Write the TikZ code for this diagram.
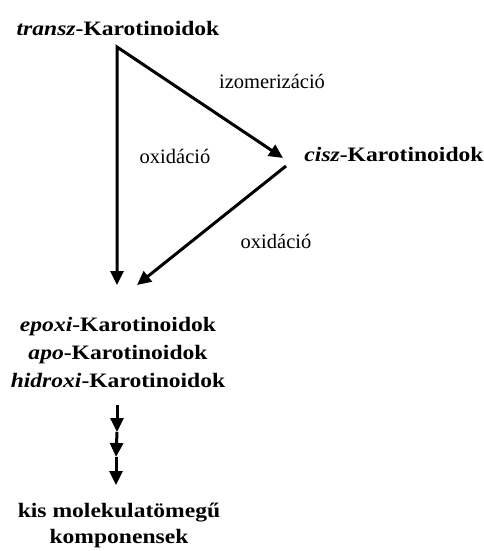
\documentclass[tikz,border=0pt]{standalone}
\usepackage{fontspec}
\setmainfont{Liberation Serif}[BoldFeatures={FakeStretch=1.15},BoldItalicFeatures={FakeStretch=1.15}]
\usetikzlibrary{arrows.meta}
\tikzset{
  lbl/.style={font=\fontsize{20.5}{24}\selectfont, inner sep=0pt, anchor=base},
  ttl/.style={font=\fontsize{20.5}{24}\selectfont\bfseries, inner sep=0pt, anchor=base},
  arr/.style={line width=3pt, -{Triangle[length=14pt,width=13pt]}},
  darr/.style={line width=3pt, line join=miter, {Triangle[length=14pt,width=13pt]}-{Triangle[length=14pt,width=13pt]}}
}
\begin{document}
\begin{tikzpicture}[x=1pt,y=-1pt]
\useasboundingbox (0,0) rectangle (484,551);
\node[ttl] (transz) at (118,36) {\textit{transz}-Karotinoidok};
\node[ttl] (cisz) at (394,161) {\textit{cisz}-Karotinoidok};
\node[lbl] (izom) at (272,88) {izomerizáció};
\node[lbl] (ox1) at (175,163) {oxidáció};
\node[lbl] (ox2) at (276,248) {oxidáció};
\node[ttl] (epoxi) at (118,331) {\textit{epoxi}-Karotinoidok};
\node[ttl] (apo) at (118,359) {\textit{apo}-Karotinoidok};
\node[ttl] (hidroxi) at (118,387) {\textit{hidroxi}-Karotinoidok};
\node[ttl] (kis) at (119,517) {kis molekulatömegű};
\node[ttl] (komp) at (119,543) {komponensek};
\coordinate (apex) at (117,47);
\coordinate (tipA) at (117,285);
\coordinate (tipB) at (283,158);
\coordinate (cs) at (286,166);
\coordinate (tipC) at (137,285);
\coordinate (s0) at (117,405);
\coordinate (s1) at (117,432);
\coordinate (s2) at (116,457);
\coordinate (s3) at (116,485);
\draw[darr] (tipA) -- (apex) -- (tipB);
\draw[arr] (cs) -- (tipC);
\draw[arr] (s0) -- (s1);
\draw[arr] (s1) -- (s2);
\draw[arr] (s2) -- (s3);
\end{tikzpicture}
\end{document}
